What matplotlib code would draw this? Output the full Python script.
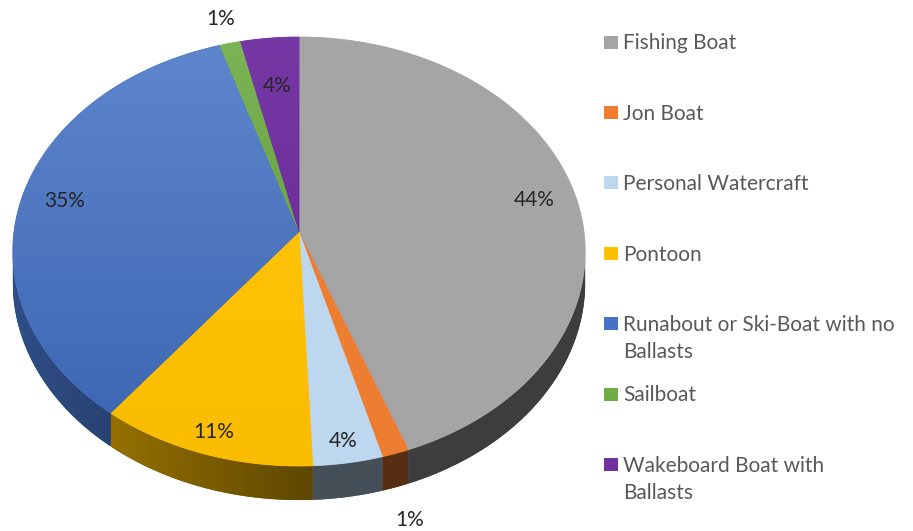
import numpy as np
import matplotlib
matplotlib.use("Agg")
import matplotlib.pyplot as plt
from matplotlib.patches import Polygon, Rectangle
from matplotlib.colors import to_rgb

# ---------------- data ----------------
categories = ["Fishing Boat", "Jon Boat", "Personal Watercraft", "Pontoon",
              "Runabout or Ski-Boat with no Ballasts", "Sailboat",
              "Wakeboard Boat with Ballasts"]
legend_labels = ["Fishing Boat", "Jon Boat", "Personal Watercraft", "Pontoon",
                 "Runabout or Ski-Boat with no\nBallasts", "Sailboat",
                 "Wakeboard Boat with\nBallasts"]
shares = [44.3, 1.4, 3.6, 11.2, 34.6, 1.3, 3.6]
colors = ["#A5A5A5", "#ED7D31", "#BDD7EE", "#FFC000", "#4472C4", "#70AD47", "#7030A0"]

# ---------------- style / layout ----------------
shade = [0.0, 0.0, 0.0, 0.03, 0.14, 0.08, 0.04]      # top-face gradient strength
label_r = [0.85, 1.13, 0.915, 0.91, 0.845, 1.14, 0.735]
label_h = [0, 1, 0, 0, 0, 0, 0]
FONT = "Lato"
LBL_SIZE = 15
LEG_SIZE = 15

W, H = 913, 531
fig = plt.figure(figsize=(W / 100, H / 100), dpi=100)
ax = fig.add_axes([0, 0, 1, 1])
ax.set_xlim(0, W)
ax.set_ylim(H, 0)
ax.axis("off")

CX, CY, SX, SY, PC, DEPTH = 299, 232, 285, 212.7, 0.0909, 31


def proj(r, theta_deg, h=0.0):
    th = np.radians(theta_deg)
    x = r * np.sin(th)
    z = -r * np.cos(th)
    s = 1.0 / (1.0 - PC * z)
    return CX + SX * x * s, CY + SY * z * s + DEPTH * h * s


def clipped_image(img, pts, z):
    xmin, xmax = pts[:, 0].min(), pts[:, 0].max()
    ymin, ymax = pts[:, 1].min(), pts[:, 1].max()
    im = ax.imshow(img, extent=(xmin, xmax, ymax, ymin), origin="upper",
                   aspect="auto", zorder=z, interpolation="bilinear")
    im.set_clip_path(Polygon(pts, closed=True, transform=ax.transData))


vals = np.array(shares, dtype=float)
cum = np.concatenate([[0], np.cumsum(vals)]) / vals.sum() * 360.0

vis0 = np.degrees(np.arccos(-PC))
vis1 = 360 - vis0

# ---------------- sides ----------------
for i in range(len(vals)):
    a0, a1 = max(cum[i], vis0), min(cum[i + 1], vis1)
    if a1 <= a0:
        continue
    n = max(3, int((a1 - a0) / 0.5) + 2)
    ts = np.linspace(a0, a1, n)
    top = np.array([proj(1, t) for t in ts])
    bot = np.array([proj(1, t, 1) for t in ts[::-1]])
    pts = np.vstack([top, bot])
    base = np.array(to_rgb(colors[i]))
    xs = np.linspace(pts[:, 0].min(), pts[:, 0].max(), 200)
    f = 0.37 + 0.31 * np.clip((310 - xs) / 290, 0, 1)
    mean_col = base * f.mean()
    ax.add_patch(Polygon(pts, closed=True, facecolor=mean_col, edgecolor="none", zorder=1))
    img = np.clip(base[None, None, :] * f[None, :, None], 0, 1)
    clipped_image(img, pts, 1.5)

# ---------------- top faces ----------------
for i in range(len(vals)):
    a0, a1 = cum[i], cum[i + 1]
    n = max(3, int((a1 - a0) / 0.5) + 2)
    ts = np.linspace(a0, a1, n)
    pts = np.array([(CX, CY)] + [proj(1, t) for t in ts])
    base = np.array(to_rgb(colors[i]))
    ax.add_patch(Polygon(pts, closed=True, facecolor=base, edgecolor=base, lw=0.6, zorder=2))
    k = shade[i]
    if k > 0:
        tt = np.linspace(0, 1, 200)[:, None]
        ctop = base + (1 - base) * k
        cbot = base * (1 - 0.6 * k)
        img = (ctop[None, :] * (1 - tt) + cbot[None, :] * tt)[:, None, :]
        clipped_image(img, pts, 3)

ax.set_xlim(0, W)
ax.set_ylim(H, 0)

# ---------------- data labels ----------------
for i in range(len(vals)):
    mid = (cum[i] + cum[i + 1]) / 2
    X, Y = proj(label_r[i], mid, label_h[i])
    ax.text(X, Y, f"{vals[i]:.0f}%", ha="center", va="center", fontsize=LBL_SIZE,
            family=FONT, color="#262626", zorder=5)

# ---------------- legend ----------------
LEG_X, LEG_Y0, LEG_DY, LINE_DY = 604, 42, 70.4, 27
fpx = LEG_SIZE * 100 / 72
for i, lab in enumerate(legend_labels):
    y0 = LEG_Y0 + i * LEG_DY
    ax.add_patch(Rectangle((LEG_X, y0 - 6.5), 14, 13, facecolor=colors[i],
                           edgecolor="none", zorder=5))
    for j, line in enumerate(lab.split("\n")):
        ax.text(LEG_X + 19, y0 + j * LINE_DY + 0.358 * fpx, line, ha="left",
                va="baseline", fontsize=LEG_SIZE, family=FONT, color="#595959",
                zorder=5)

fig.savefig("out.png", dpi=100)
